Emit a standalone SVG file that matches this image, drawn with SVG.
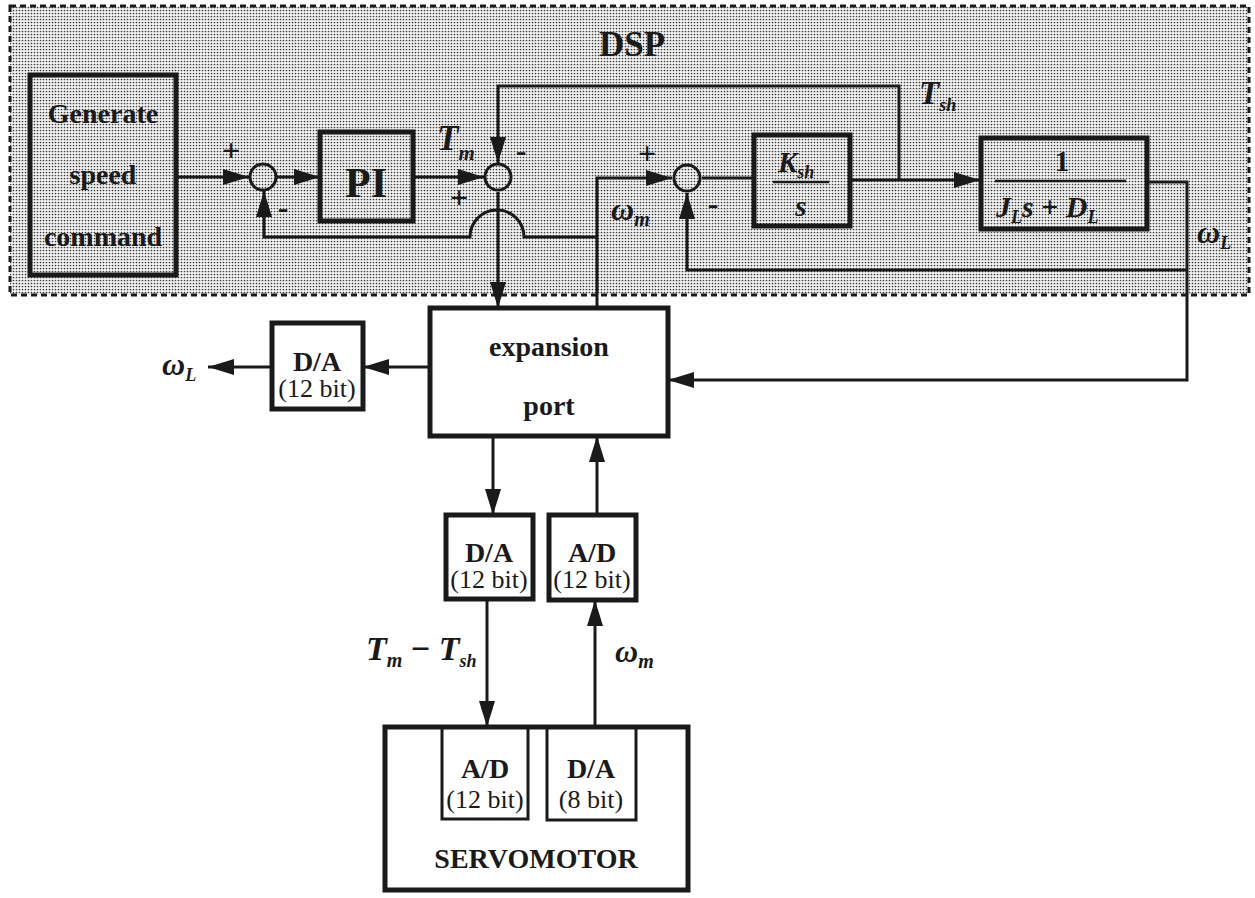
<svg xmlns="http://www.w3.org/2000/svg" width="1255" height="898" viewBox="0 0 1255 898">
<defs>
  <pattern id="dots" width="3" height="3" patternUnits="userSpaceOnUse">
    <rect width="3" height="3" fill="#f4f4f4"/>
    <circle cx="1.5" cy="1.5" r="0.85" fill="#3a3a3a"/>
  </pattern>
  <marker id="ah" markerUnits="userSpaceOnUse" markerWidth="26" markerHeight="16" refX="26" refY="8" orient="auto">
    <path d="M0,0 L26,8 L0,16 z" fill="#1a1a1a"/>
  </marker>
</defs>
<style>
  .blk{fill:none;stroke:#1a1a1a;stroke-width:5}
  .blkw{fill:#fff;stroke:#1a1a1a;stroke-width:5}
  .ln{fill:none;stroke:#1a1a1a;stroke-width:3}
  .arr{fill:none;stroke:#1a1a1a;stroke-width:3;marker-end:url(#ah)}
  .sum{fill:none;stroke:#1a1a1a;stroke-width:3}
  text{font-family:"Liberation Serif","Times New Roman",serif;fill:#1a1a1a}
  .b{font-weight:bold}
  .bi{font-weight:bold;font-style:italic}
  .lbl{font-size:28px;font-weight:bold;text-anchor:middle}
  .bit{font-size:26px;text-anchor:middle}
  .sgn{font-size:32px;font-weight:bold;text-anchor:middle}
</style>

<g id="dsp">
  <rect x="10" y="6" width="1239" height="289" fill="url(#dots)" stroke="#1a1a1a" stroke-width="3" stroke-dasharray="6 4"/>
  <text x="632" y="56" font-size="35" class="b" text-anchor="middle">DSP</text>
</g>

<g id="connectors">
  <line class="arr" x1="176" y1="177" x2="249" y2="177"/>
  <line class="arr" x1="277" y1="177" x2="320" y2="177"/>
  <line class="arr" x1="413" y1="177" x2="484" y2="177"/>
  <path class="arr" d="M597,237 L524,237 A27,27 0 0 0 470,237 L264,237 L264,191"/>
  <path class="arr" d="M899,180 L899,86 L498,86 L498,163"/>
  <line class="arr" x1="498" y1="192" x2="498" y2="308"/>
  <path class="arr" d="M597,308 L597,178 L672,178"/>
  <line class="ln" x1="702" y1="178" x2="754" y2="178"/>
  <line class="arr" x1="850" y1="180" x2="980" y2="180"/>
  <path class="arr" d="M1147,182 L1187,182 L1187,380 L668,380"/>
  <path class="arr" d="M1187,270 L687,270 L687,193"/>
  <line class="arr" x1="430" y1="367" x2="363" y2="367"/>
  <line class="arr" x1="272" y1="367" x2="208" y2="367"/>
  <line class="arr" x1="493" y1="436" x2="493" y2="515"/>
  <line class="arr" x1="597" y1="515" x2="597" y2="436"/>
  <line class="arr" x1="487" y1="599" x2="487" y2="727"/>
  <line class="arr" x1="595" y1="727" x2="595" y2="600"/>
</g>

<g id="generate">
  <rect class="blk" x="30" y="75" width="146" height="200"/>
  <text class="lbl" x="103" y="123" font-size="30">Generate</text>
  <text class="lbl" x="103" y="184" font-size="30">speed</text>
  <text class="lbl" x="103" y="246" font-size="30">command</text>
</g>

<g id="sum1">
  <circle class="sum" cx="263" cy="177" r="13"/>
  <text class="sgn" x="231" y="161">+</text>
  <text class="sgn" x="283" y="218">-</text>
</g>

<g id="pi">
  <rect class="blk" x="320" y="132" width="93" height="89"/>
  <text x="366" y="197" font-size="42" class="b" text-anchor="middle">PI</text>
</g>

<g id="tm-label">
  <text x="437" y="150" font-size="35" class="bi">T<tspan font-size="21" dy="10">m</tspan></text>
</g>

<g id="sum2">
  <circle class="sum" cx="498" cy="177" r="13"/>
  <text class="sgn" x="521" y="161">-</text>
  <text class="sgn" x="459" y="208">+</text>
</g>

<g id="tsh-label">
  <text x="919" y="104" font-size="33" class="bi">T<tspan font-size="18" dy="7">sh</tspan></text>
</g>

<g id="wm-label">
  <text x="611" y="220" font-size="32" class="bi">ω<tspan font-size="20" dy="6">m</tspan></text>
</g>

<g id="sum3">
  <circle class="sum" cx="687" cy="178" r="13"/>
  <text class="sgn" x="647" y="164">+</text>
  <text class="sgn" x="713" y="214">-</text>
</g>

<g id="ksh">
  <rect class="blk" x="754" y="135" width="96" height="91"/>
  <text x="778" y="172" font-size="29" class="bi">K<tspan font-size="18" dy="6">sh</tspan></text>
  <line x1="773" y1="182" x2="829" y2="182" stroke="#1a1a1a" stroke-width="2.5"/>
  <text x="801" y="216" font-size="29" class="bi" text-anchor="middle">s</text>
</g>

<g id="plant">
  <rect class="blk" x="981" y="138" width="166" height="91"/>
  <text x="1062" y="171" font-size="29" class="b" text-anchor="middle">1</text>
  <line x1="995" y1="181" x2="1126" y2="181" stroke="#1a1a1a" stroke-width="2.5"/>
  <text x="996" y="217" font-size="30" class="bi">J<tspan font-size="18" dy="6">L</tspan><tspan dy="-6">s</tspan><tspan font-style="normal"> + </tspan>D<tspan font-size="18" dy="6">L</tspan></text>
</g>

<g id="wl-label-right">
  <text x="1197" y="243" font-size="32" class="bi">ω<tspan font-size="18" dy="6">L</tspan></text>
</g>

<g id="expansion">
  <rect class="blkw" x="430" y="308" width="238" height="128"/>
  <text class="lbl" x="549" y="356" font-size="34">expansion</text>
  <text class="lbl" x="549" y="415" font-size="34">port</text>
</g>

<g id="da-left">
  <rect class="blkw" x="272" y="323" width="91" height="86"/>
  <text class="lbl" x="317" y="371">D/A</text>
  <text class="bit" x="317" y="397">(12 bit)</text>
</g>

<g id="wl-label-left">
  <text x="162" y="375" font-size="32" class="bi">ω<tspan font-size="18" dy="6">L</tspan></text>
</g>

<g id="da-mid">
  <rect class="blkw" x="446" y="515" width="87" height="84"/>
  <text class="lbl" x="489" y="562">D/A</text>
  <text class="bit" x="489" y="588">(12 bit)</text>
</g>

<g id="ad-mid">
  <rect class="blkw" x="549" y="515" width="87" height="85"/>
  <text class="lbl" x="592" y="562">A/D</text>
  <text class="bit" x="592" y="588">(12 bit)</text>
</g>

<g id="tm-tsh-label">
  <text x="366" y="660" font-size="34" class="bi">T<tspan font-size="20" dy="7">m</tspan><tspan font-style="normal" dy="-7"> − </tspan>T<tspan font-size="18" dy="7">sh</tspan></text>
</g>

<g id="wm-label-bottom">
  <text x="615" y="662" font-size="32" class="bi">ω<tspan font-size="20" dy="6">m</tspan></text>
</g>

<g id="servomotor">
  <rect class="blkw" x="385" y="727" width="303" height="163" stroke-width="4"/>
  <rect x="442" y="727" width="86" height="92" fill="none" stroke="#1a1a1a" stroke-width="3"/>
  <rect x="547" y="727" width="89" height="93" fill="none" stroke="#1a1a1a" stroke-width="3"/>
  <text class="lbl" x="485" y="778">A/D</text>
  <text class="bit" x="485" y="808">(12 bit)</text>
  <text class="lbl" x="591" y="778">D/A</text>
  <text class="bit" x="591" y="808">(8 bit)</text>
  <text class="lbl" x="536" y="868" font-size="31">SERVOMOTOR</text>
</g>
</svg>
